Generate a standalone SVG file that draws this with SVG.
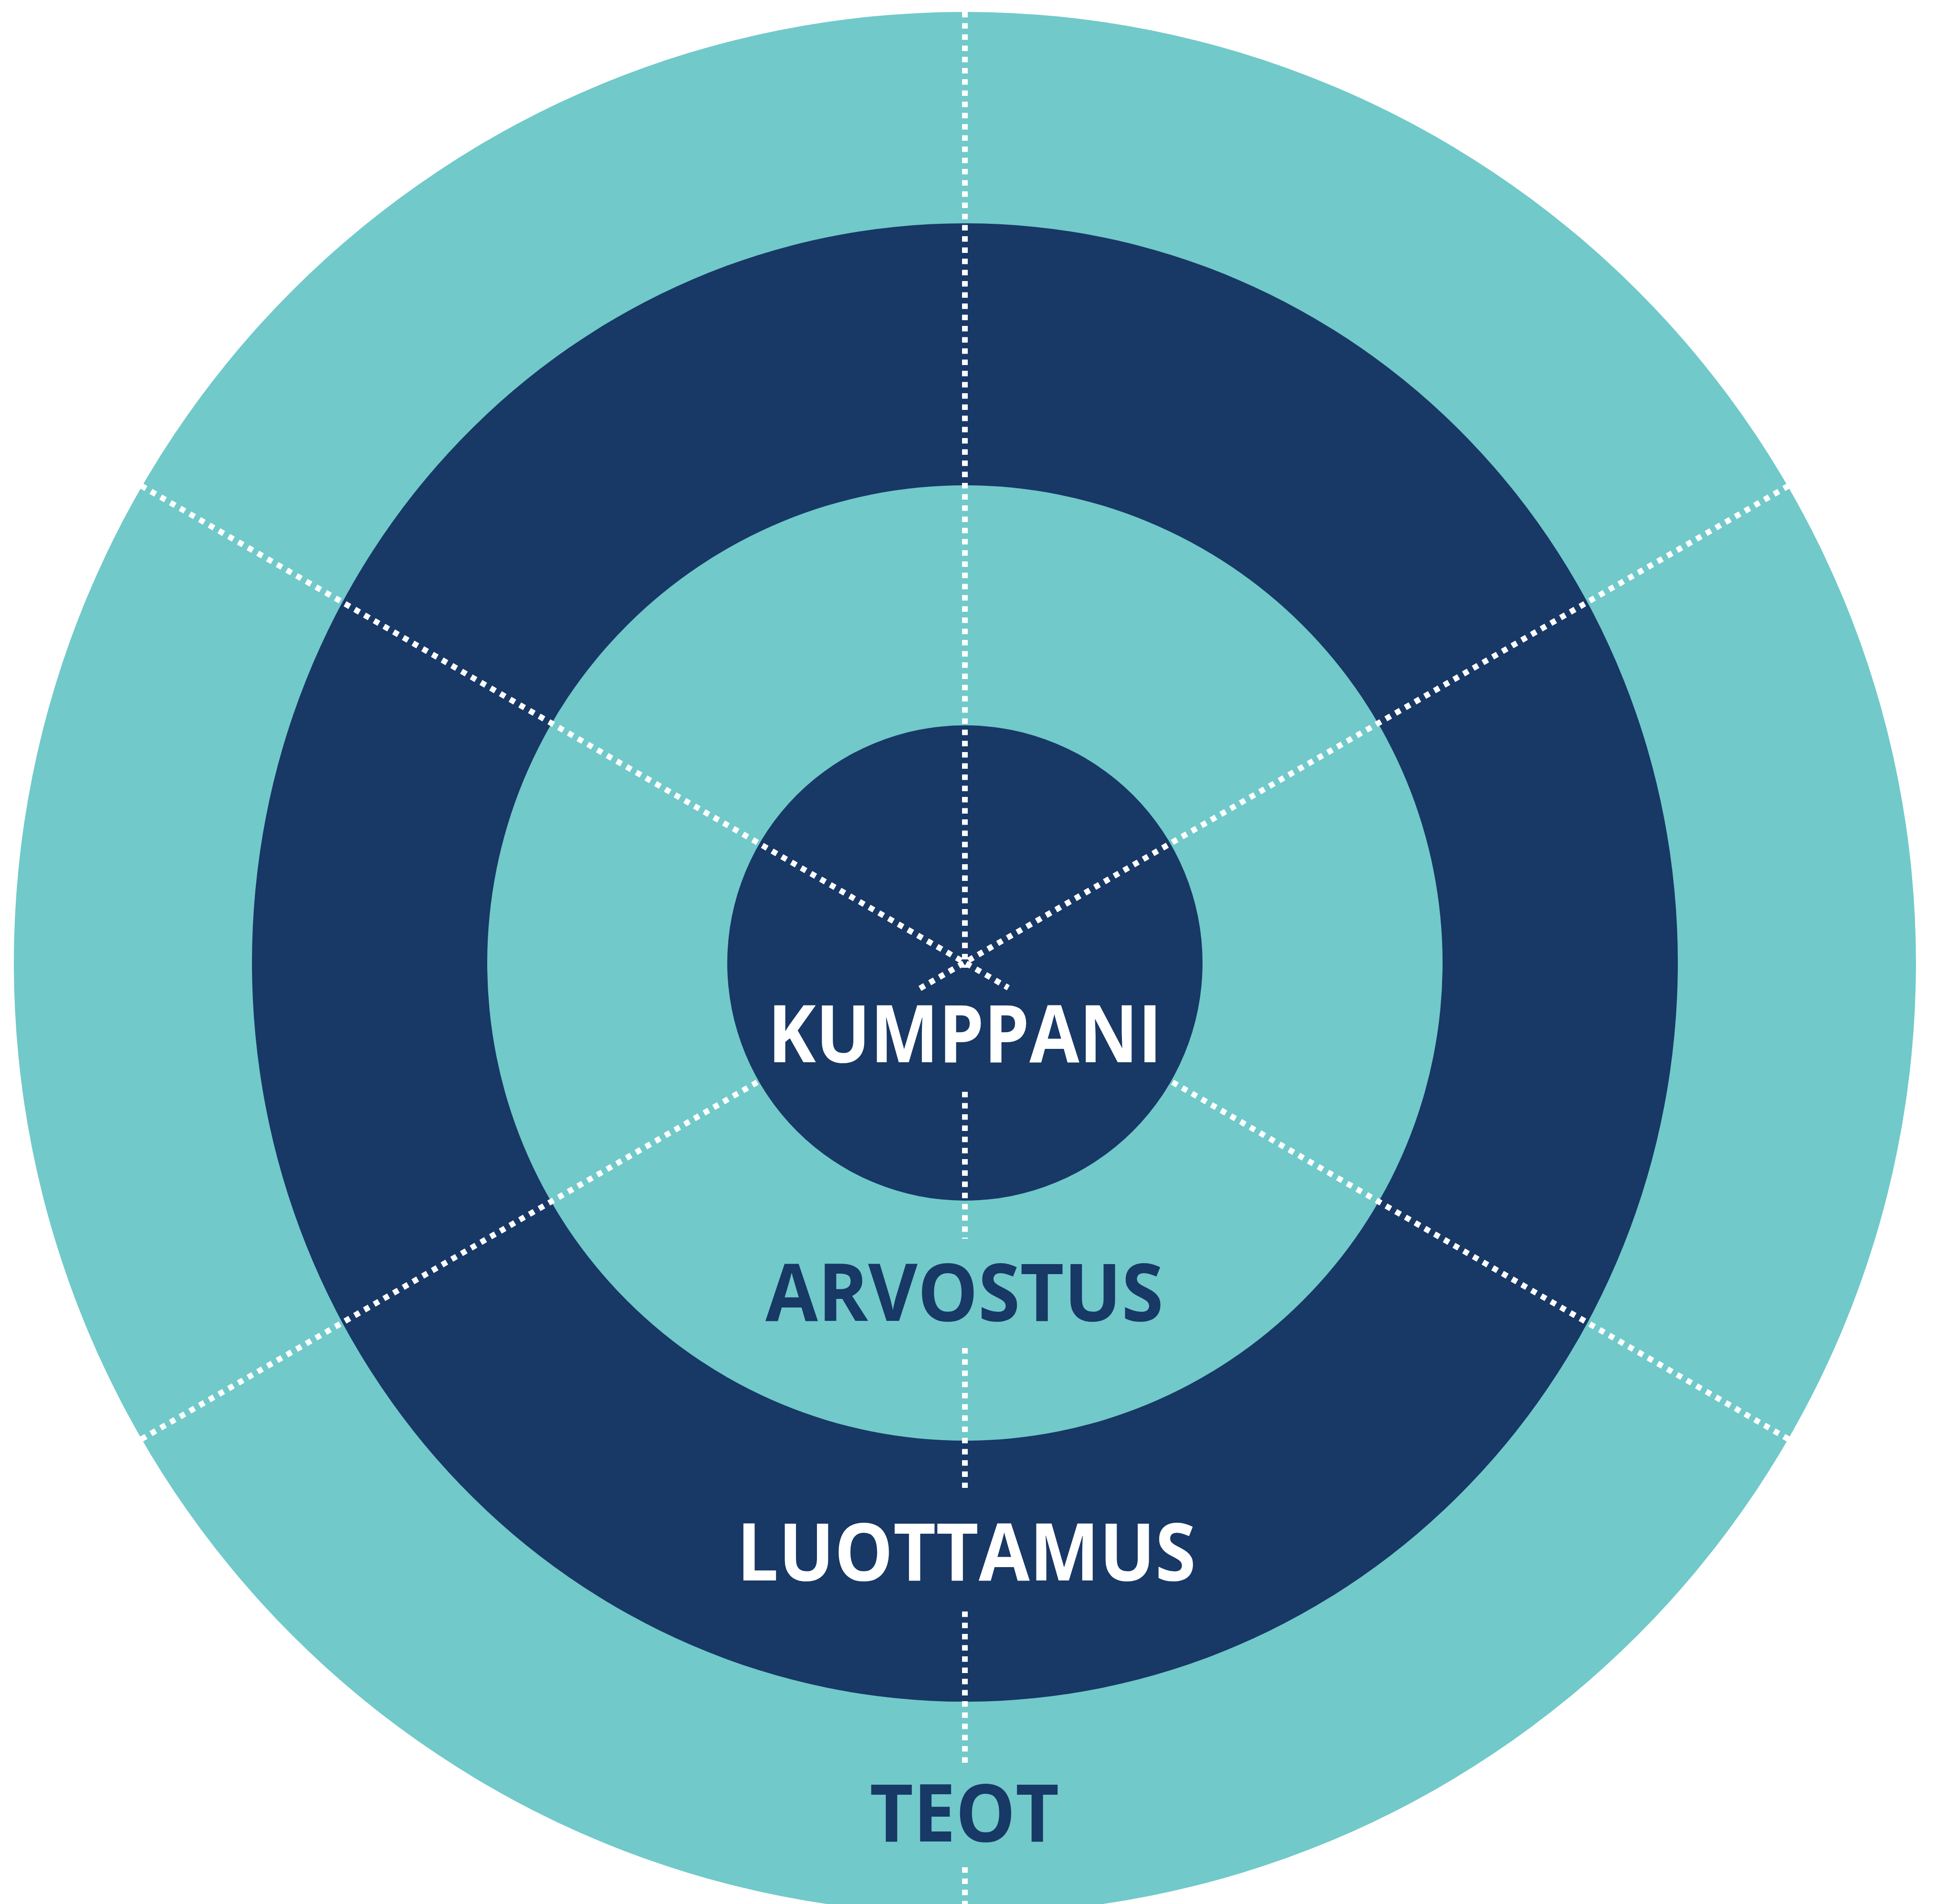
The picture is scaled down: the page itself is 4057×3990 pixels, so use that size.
<svg xmlns="http://www.w3.org/2000/svg" width="4057" height="3990" viewBox="0 0 4057 3990">
<style>
.teal{fill:#71c9ca}
.navy{fill:#183866}
.dot{stroke:#ffffff;stroke-width:12;stroke-dasharray:11.5 12;fill:none}
.lbl{font-family:"Open Sans","Liberation Sans",sans-serif;font-weight:700;font-size:167px;text-anchor:middle}
.w{fill:#ffffff}
.d{fill:#183866}
</style>
<rect width="4057" height="3990" fill="#ffffff"/>
<g id="ring-teot">
<circle class="teal" cx="2022" cy="2018" r="1993"/>
</g>
<g id="ring-luottamus">
<ellipse class="navy" cx="2022" cy="2017" rx="1494" ry="1549"/>
</g>
<g id="ring-arvostus">
<circle class="teal" cx="2022" cy="2018" r="1001"/>
</g>
<g id="core-kumppani">
<circle class="navy" cx="2022" cy="2018" r="498"/>
</g>
<g id="connectors">
<line class="dot" x1="2022" y1="25" x2="2022" y2="2028"/>
<line class="dot" x1="2022" y1="2288" x2="2022" y2="2596"/>
<line class="dot" x1="2022" y1="2825" x2="2022" y2="3118"/>
<line class="dot" x1="2022" y1="3377" x2="2022" y2="3694"/>
<line class="dot" x1="2022" y1="3913" x2="2022" y2="3990"/>
<line class="dot" x1="296" y1="1018" x2="2113" y2="2070"/>
<line class="dot" x1="3748" y1="1018" x2="1918" y2="2077"/>
<line class="dot" x1="296" y1="3016" x2="1590" y2="2266"/>
<line class="dot" x1="3748" y1="3016" x2="2454" y2="2266"/>
</g>
<g id="label-kumppani">
<text class="lbl w" x="2022" y="2226" textLength="826" lengthAdjust="spacingAndGlyphs">KUMPPANI</text>
</g>
<g id="label-arvostus">
<text class="lbl d" x="2021" y="2768" textLength="834" lengthAdjust="spacingAndGlyphs">ARVOSTUS</text>
</g>
<g id="label-luottamus">
<text class="lbl w" x="2025" y="3312" textLength="962" lengthAdjust="spacingAndGlyphs">LUOTTAMUS</text>
</g>
<g id="label-teot">
<text class="lbl d" x="2021" y="3859" textLength="397" lengthAdjust="spacingAndGlyphs">TEOT</text>
</g>
</svg>
